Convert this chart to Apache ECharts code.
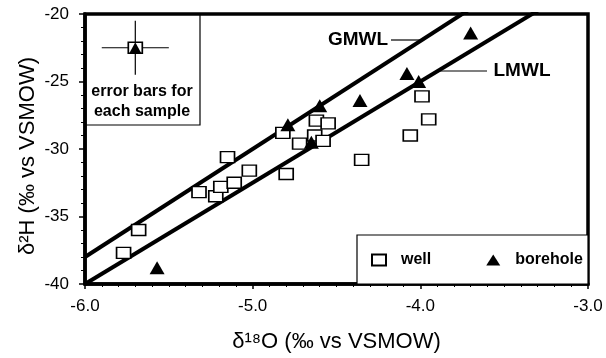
<!DOCTYPE html>
<html><head><meta charset="utf-8">
<script src="https://cdn.jsdelivr.net/npm/echarts@6/dist/echarts.min.js"></script>
<style>html,body{margin:0;padding:0;background:#fff}#c{width:606px;height:358px}</style>
</head><body><div id="c"></div>
<script>
// ---- data ----
var wellData = [
  [-5.77,-37.7], [-5.68,-36.0], [-5.32,-33.2], [-5.22,-33.5], [-5.19,-32.8],
  [-5.11,-32.5], [-5.15,-30.6], [-5.02,-31.6], [-4.80,-31.85],
  [-4.82,-28.8], [-4.72,-29.6], [-4.62,-27.9], [-4.55,-28.1], [-4.63,-29.0],
  [-4.58,-29.4], [-4.35,-30.8], [-4.06,-29.0], [-3.95,-27.8], [-3.99,-26.1]
];
var boreholeData = [
  [-5.57,-38.8], [-4.79,-28.2], [-4.65,-29.5], [-4.60,-26.8], [-4.36,-26.4],
  [-4.08,-24.4], [-4.01,-25.0], [-3.70,-21.4]
];
// meteoric water lines: [slope, intercept]
var gmwl = [8, 10];
var lmwl = [7.5, 5];
var xRange = [-6, -3];
var yRange = [-40, -20];
// error bar example sample: [x, y, xErr, yErr]
var errorSample = [[-5.70, -22.5, 0.2, 2.0]];
var seriesNames = ['well', 'borehole'];
var yTitle = 'δ²H (‰ vs VSMOW)';
var xTitle = 'δ¹⁸O (‰ vs VSMOW)';

function lineData(p){ return xRange.map(function(x){ return [x, p[0]*x + p[1]]; }); }

var FONT = '"Liberation Sans", Arial, "DejaVu Sans", sans-serif';
var chart = echarts.init(document.getElementById('c'), null, {renderer:'canvas'});
chart.setOption({
  animation:false,
  backgroundColor:'#fff',
  grid:{left:85, right:18, top:14, bottom:74, show:true, borderColor:'#000', borderWidth:3.5, backgroundColor:'transparent'},
  xAxis:{type:'value', min:xRange[0], max:xRange[1], interval:1,
    name:xTitle, nameLocation:'middle', nameGap:47,
    nameTextStyle:{fontFamily:FONT, fontSize:22, color:'#000'},
    axisLine:{lineStyle:{color:'#000', width:3.5}},
    axisTick:{show:true, inside:false, length:5, lineStyle:{color:'#000', width:1.5}},
    minorTick:{show:true, splitNumber:10, length:3, lineStyle:{color:'#000', width:1}},
    splitLine:{show:false},
    axisLabel:{formatter:function(v){return v.toFixed(1);}, fontFamily:FONT, fontSize:17, color:'#000', margin:14}
  },
  yAxis:{type:'value', min:yRange[0], max:yRange[1], interval:5,
    axisLine:{lineStyle:{color:'#000', width:3.5}},
    axisTick:{show:true, inside:false, length:6, lineStyle:{color:'#000', width:1.5}},
    minorTick:{show:true, splitNumber:5, length:4, lineStyle:{color:'#000', width:1}},
    splitLine:{show:false},
    axisLabel:{fontFamily:FONT, fontSize:17, color:'#000', margin:16}
  },
  legend:{left:371, top:252, itemWidth:14, itemHeight:11, itemGap:55, padding:0,
    data:seriesNames,
    textStyle:{fontFamily:FONT, fontSize:16, fontWeight:'bold', color:'#000', padding:[0,0,0,10]}
  },
  graphic:[
    {type:'text', x:28, y:156, rotation:Math.PI/2, style:{text:yTitle, fontFamily:FONT, fontSize:22, fill:'#000', textAlign:'center', textVerticalAlign:'middle'}},
    {type:'rect', shape:{x:85, y:14, width:115, height:111}, style:{fill:'none', stroke:'#000', lineWidth:1.2}, z:1},
    {type:'text', x:142, y:92, style:{text:'error bars for', fontFamily:FONT, fontSize:16, fontWeight:'bold', fill:'#000', textAlign:'center', textVerticalAlign:'middle'}},
    {type:'text', x:142, y:112, style:{text:'each sample', fontFamily:FONT, fontSize:16, fontWeight:'bold', fill:'#000', textAlign:'center', textVerticalAlign:'middle'}},
    {type:'rect', shape:{x:357, y:235, width:231, height:49}, style:{fill:'#fff', stroke:'#000', lineWidth:1.2}, z:1},
    {type:'text', x:358, y:40, style:{text:'GMWL', fontFamily:FONT, fontSize:19, fontWeight:'bold', fill:'#000', textAlign:'center', textVerticalAlign:'middle'}},
    {type:'line', shape:{x1:391, y1:40, x2:422, y2:40}, style:{stroke:'#000', lineWidth:1.2}},
    {type:'text', x:522, y:71, style:{text:'LMWL', fontFamily:FONT, fontSize:19, fontWeight:'bold', fill:'#000', textAlign:'center', textVerticalAlign:'middle'}},
    {type:'line', shape:{x1:440, y1:71, x2:487, y2:71}, style:{stroke:'#000', lineWidth:1.2}}
  ],
  series:[
    {name:'GMWL', type:'line', data:lineData(gmwl), showSymbol:false, clip:true, lineStyle:{color:'#000', width:4}, z:3},
    {name:'LMWL', type:'line', data:lineData(lmwl), showSymbol:false, clip:true, lineStyle:{color:'#000', width:4}, z:3},
    {name:'well', type:'scatter', data:wellData, symbol:'rect', symbolSize:[14,11],
      itemStyle:{color:'#fff', borderColor:'#000', borderWidth:1.5, opacity:1}, z:4},
    {name:'borehole', type:'scatter', data:boreholeData, symbol:'triangle', symbolSize:[15,13],
      itemStyle:{color:'#000', opacity:1}, z:5},
    {name:'errbars', type:'custom', data:errorSample, z:6,
      renderItem:function(params, api){
        var x=api.value(0), y=api.value(1), dx=api.value(2), dy=api.value(3);
        var l=api.coord([x-dx,y]), r=api.coord([x+dx,y]), t=api.coord([x,y+dy]), b=api.coord([x,y-dy]);
        var style={stroke:'#000', lineWidth:1.2};
        return {type:'group', children:[
          {type:'line', shape:{x1:l[0],y1:l[1],x2:r[0],y2:r[1]}, style:style},
          {type:'line', shape:{x1:t[0],y1:t[1],x2:b[0],y2:b[1]}, style:style}
        ]};
      }},
    {name:'errsq', type:'scatter', data:errorSample.map(function(d){return [d[0],d[1]];}), symbol:'rect', symbolSize:[14,11],
      itemStyle:{color:'#fff', borderColor:'#000', borderWidth:1.5, opacity:1}, z:7},
    {name:'errtri', type:'scatter', data:errorSample.map(function(d){return [d[0],d[1]];}), symbol:'triangle', symbolSize:[12,11],
      itemStyle:{color:'#000', opacity:1}, z:8}
  ]
});
</script></body></html>
